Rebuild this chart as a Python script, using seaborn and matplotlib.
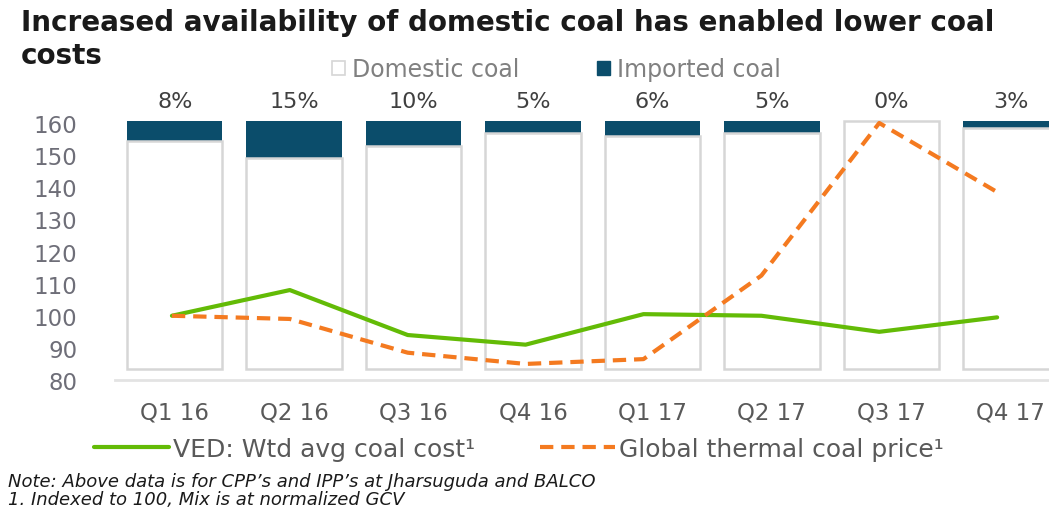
import numpy as np
import pandas as pd
import matplotlib
matplotlib.use("Agg")
import matplotlib.pyplot as plt
import seaborn as sns
from matplotlib.patches import Patch
from matplotlib.lines import Line2D

# ---- data -------------------------------------------------------------
quarters = ["Q1 16", "Q2 16", "Q3 16", "Q4 16", "Q1 17", "Q2 17", "Q3 17", "Q4 17"]
imported_pct = [8, 15, 10, 5, 6, 5, 0, 3]                 # share of imported coal in the mix (%)
ved_cost = [100, 108, 94, 91, 100.5, 100, 95, 99.5]        # VED weighted avg coal cost (indexed)
global_price = [100, 99, 88.5, 85, 86.5, 112.5, 160, 138.5]  # global thermal coal price (indexed)
index_ticks = [80, 90, 100, 110, 120, 130, 140, 150, 160]

# ---- style ------------------------------------------------------------
TEAL = "#0b4d6b"
BOX_GRAY = "#d6d6d6"
GREEN = "#63bb06"
ORANGE = "#f47a20"
TICK_GRAY = "#6e6e78"
TEXT_GRAY = "#595959"

sns.set_theme(style="white")
plt.rcParams["font.family"] = ["DejaVu Sans"]

W, H = 1049, 510
fig = plt.figure(figsize=(W / 100, H / 100), dpi=100)
fig.patch.set_facecolor("white")


def px_box(left, top, right, bottom):
    return [left / W, 1 - bottom / H, (right - left) / W, (bottom - top) / H]


plot_box = px_box(115, 95, 1049, 381)
ax_bar = fig.add_axes(plot_box)
ax_line = fig.add_axes(plot_box)
ax_line.patch.set_visible(False)

# ---- stacked 100% bars (domestic below, imported on top) -------------
df = pd.DataFrame({"quarter": quarters, "imported": imported_pct})
df["domestic"] = 100 - df["imported"]
df["total"] = 100

sns.barplot(data=df, x="quarter", y="total", color=TEAL, saturation=1,
            width=0.8, edgecolor="none", linewidth=0, ax=ax_bar)
sns.barplot(data=df, x="quarter", y="domestic", color="white", saturation=1,
            width=0.8, edgecolor=BOX_GRAY, linewidth=1.8, ax=ax_bar)

ax_bar.set_xlim(-0.5, 7.32)
ax_bar.set_ylim(-4.435, 110.9)
ax_bar.set_yticks([])
ax_bar.set_xlabel("")
ax_bar.set_ylabel("")
ax_bar.tick_params(axis="x", length=0, pad=15, labelsize=16.5, labelcolor=TEXT_GRAY)
for side in ["top", "right", "left"]:
    ax_bar.spines[side].set_visible(False)
ax_bar.spines["bottom"].set_color("#e3e3e3")
ax_bar.spines["bottom"].set_linewidth(2)

for i, v in enumerate(imported_pct):
    ax_bar.text(i, 108.2, f"{v}%", ha="center", va="center",
                fontsize=16, color="#404040")

# ---- indexed cost lines ------------------------------------------------
x_pos = np.arange(len(quarters))
sns.lineplot(x=x_pos, y=ved_cost, color=GREEN, linewidth=3, ax=ax_line)
sns.lineplot(x=x_pos, y=global_price, color=ORANGE, linewidth=3,
             linestyle=(0, (3.2, 1.9)), ax=ax_line)

ax_line.set_xlim(-0.483, 7.44)
ax_line.set_ylim(80, 169.03)
ax_line.set_xticks([])
ax_line.set_yticks(index_ticks)
ax_line.set_yticklabels([str(t) for t in index_ticks])
ax_line.tick_params(axis="y", length=0, pad=27, labelsize=16.5, labelcolor=TICK_GRAY)
for side in ax_line.spines.values():
    side.set_visible(False)

# ---- title ---------------------------------------------------------------
fig.text(21 / W, 1 - 23 / H, "Increased availability of domestic coal has enabled lower coal",
         fontsize=20, fontweight="bold", color="#1a1a1a", va="center", ha="left")
fig.text(21 / W, 1 - 56 / H, "costs",
         fontsize=20, fontweight="bold", color="#1a1a1a", va="center", ha="left")

# ---- legends ---------------------------------------------------------------
bar_handles = [Patch(facecolor="white", edgecolor=BOX_GRAY, linewidth=1.2),
               Patch(facecolor=TEAL, edgecolor=TEAL)]
fig.legend(bar_handles, ["Domestic coal", "Imported coal"], loc="center left",
           bbox_to_anchor=(332 / W, 1 - 70 / H), ncol=2, frameon=False,
           fontsize=17, labelcolor="#808080", handlelength=0.55, handleheight=0.55,
           handletextpad=0.3, columnspacing=3.3, borderpad=0, borderaxespad=0)

line_handles = [Line2D([], [], color=GREEN, linewidth=3),
                Line2D([], [], color=ORANGE, linewidth=3, linestyle=(0, (3.2, 1.9)))]
fig.legend(line_handles, ["VED: Wtd avg coal cost\u00b9", "Global thermal coal price\u00b9"],
           loc="center left", bbox_to_anchor=(94 / W, 1 - 450 / H), ncol=2,
           frameon=False, fontsize=18, labelcolor=TEXT_GRAY, handlelength=3.0,
           handletextpad=0.15, columnspacing=2.6, borderpad=0, borderaxespad=0)

# ---- notes -----------------------------------------------------------------
fig.text(8 / W, 1 - 482 / H, "Note: Above data is for CPP\u2019s and IPP\u2019s at Jharsuguda and BALCO",
         fontsize=13, style="italic", color="#1a1a1a", va="center", ha="left")
fig.text(8 / W, 1 - 500 / H, "1. Indexed to 100, Mix is at normalized GCV",
         fontsize=13, style="italic", color="#1a1a1a", va="center", ha="left")

fig.savefig("out.png", dpi=100)
